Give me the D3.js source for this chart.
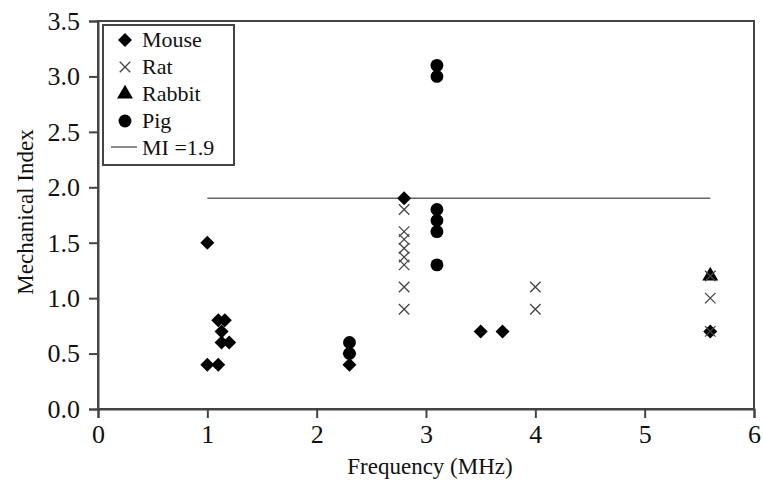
<!DOCTYPE html>
<html><head><meta charset="utf-8">
<script src="https://cdn.jsdelivr.net/npm/d3@7"></script>
<style>body{margin:0;background:#fff}svg{display:block}</style>
</head><body><svg id="c" width="763" height="491"></svg>
<script>
const xTicks = [0,1,2,3,4,5,6];
const yTicks = [0,0.5,1,1.5,2,2.5,3,3.5];
const mouseX = [1.0,1.0,1.1,1.1,1.16,1.13,1.13,1.2,2.3,2.3,2.8,3.5,3.7,5.6];
const mouseY = [1.5,0.4,0.4,0.8,0.8,0.7,0.6,0.6,0.4,0.5,1.9,0.7,0.7,0.7];
const ratX = [2.8,2.8,2.8,2.8,2.8,2.8,2.8,2.8,4.0,4.0,5.6,5.6,5.6];
const ratY = [1.8,1.6,1.53,1.45,1.37,1.3,1.1,0.9,1.1,0.9,1.2,1.0,0.7];
const rabbitX = [5.6];
const rabbitY = [1.2];
const pigX = [2.3,2.3,3.1,3.1,3.1,3.1,3.1,3.1];
const pigY = [0.6,0.5,3.1,3.0,1.8,1.7,1.6,1.3];
const miX = [1.0,5.6];
const miY = [1.9,1.9];
const legendLabels = ["Mouse","Rat","Rabbit","Pig","MI =1.9"];

const FONT = "Liberation Serif";
const svg = d3.select("#c");
const L=98,R=754,T=21,B=409;
const x = d3.scaleLinear().domain([0,6]).range([L,R]);
const y = d3.scaleLinear().domain([0,3.5]).range([B,T]);

svg.append("rect").attr("x",L).attr("y",T).attr("width",R-L).attr("height",B-T)
  .attr("fill","none").attr("stroke","#444").attr("stroke-width",2);

const xa = svg.append("g").attr("transform",`translate(0,${B})`)
  .call(d3.axisBottom(x).tickValues(xTicks).tickFormat(d3.format("d")).tickSize(9).tickPadding(7));
const ya = svg.append("g").attr("transform",`translate(${L},0)`)
  .call(d3.axisLeft(y).tickValues(yTicks).tickFormat(d3.format(".1f")).tickSize(9).tickPadding(9));
[xa,ya].forEach(a=>{
  a.attr("font-family",FONT).attr("font-size",26);
  a.select(".domain").attr("stroke","#444").attr("stroke-width",2);
  a.selectAll(".tick line").attr("stroke","#444").attr("stroke-width",2);
  a.selectAll("text").attr("fill","#111");
});

svg.append("text").attr("x",430).attr("y",474).attr("text-anchor","middle")
  .attr("font-family",FONT).attr("font-size",23).attr("fill","#111").text("Frequency (MHz)");
svg.append("text").attr("transform","translate(33,212) rotate(-90)").attr("text-anchor","middle")
  .attr("font-family",FONT).attr("font-size",23).attr("fill","#111").text("Mechanical Index");

svg.append("path").datum(miX.map((d,i)=>[d,miY[i]]))
  .attr("d",d3.line().x(d=>x(d[0])).y(d=>y(d[1])))
  .attr("stroke","#666").attr("stroke-width",1.5).attr("fill","none");

const crossType = {draw(ctx,size){const r=Math.sqrt(size)/2;ctx.moveTo(-r,-r);ctx.lineTo(r,r);ctx.moveTo(-r,r);ctx.lineTo(r,-r);}};
const diamondType = {draw(ctx,size){const r=Math.sqrt(size)/2;ctx.moveTo(0,-r);ctx.lineTo(r,0);ctx.lineTo(0,r);ctx.lineTo(-r,0);ctx.closePath();}};
const diamond = d3.symbol().type(diamondType).size(196)();
const cross = d3.symbol().type(crossType).size(110)();
const tri = d3.symbol().type(d3.symbolTriangle).size(110)();
const circ = d3.symbol().type(d3.symbolCircle).size(130)();

const zip=(a,b)=>a.map((d,i)=>[d,b[i]]);
svg.append("g").selectAll("path").data(zip(pigX,pigY)).join("path")
  .attr("d",circ).attr("transform",d=>`translate(${x(d[0])},${y(d[1])})`).attr("fill","#000");
svg.append("g").selectAll("path").data(zip(mouseX,mouseY)).join("path")
  .attr("d",diamond).attr("transform",d=>`translate(${x(d[0])},${y(d[1])})`).attr("fill","#000");
svg.append("g").selectAll("path").data(zip(rabbitX,rabbitY)).join("path")
  .attr("d",tri).attr("transform",d=>`translate(${x(d[0])},${y(d[1])})`).attr("fill","#000");
svg.append("g").selectAll("path").data(zip(ratX,ratY)).join("path")
  .attr("d",cross).attr("transform",d=>`translate(${x(d[0])},${y(d[1])})`)
  .attr("fill","none").attr("stroke","#444").attr("stroke-width",1.3);

const lg = svg.append("g");
lg.append("rect").attr("x",103).attr("y",25).attr("width",131).attr("height",140)
  .attr("fill","#fff").attr("stroke","#444").attr("stroke-width",2);
const syms=[diamond,cross,tri,circ,null];
legendLabels.forEach((t,i)=>{
  const by=47+i*27, cy=by-7;
  if(i===4){
    lg.append("line").attr("x1",111).attr("x2",137).attr("y1",cy-1).attr("y2",cy-1).attr("stroke","#666").attr("stroke-width",1.5);
  } else {
    const p=lg.append("path").attr("d",syms[i]).attr("transform",`translate(125,${cy})`);
    if(i===1) p.attr("fill","none").attr("stroke","#444").attr("stroke-width",1.3);
    else p.attr("fill","#000");
  }
  lg.append("text").attr("x",142).attr("y",by).attr("font-family",FONT).attr("font-size",22).attr("fill","#111").text(t);
});
</script></body></html>
